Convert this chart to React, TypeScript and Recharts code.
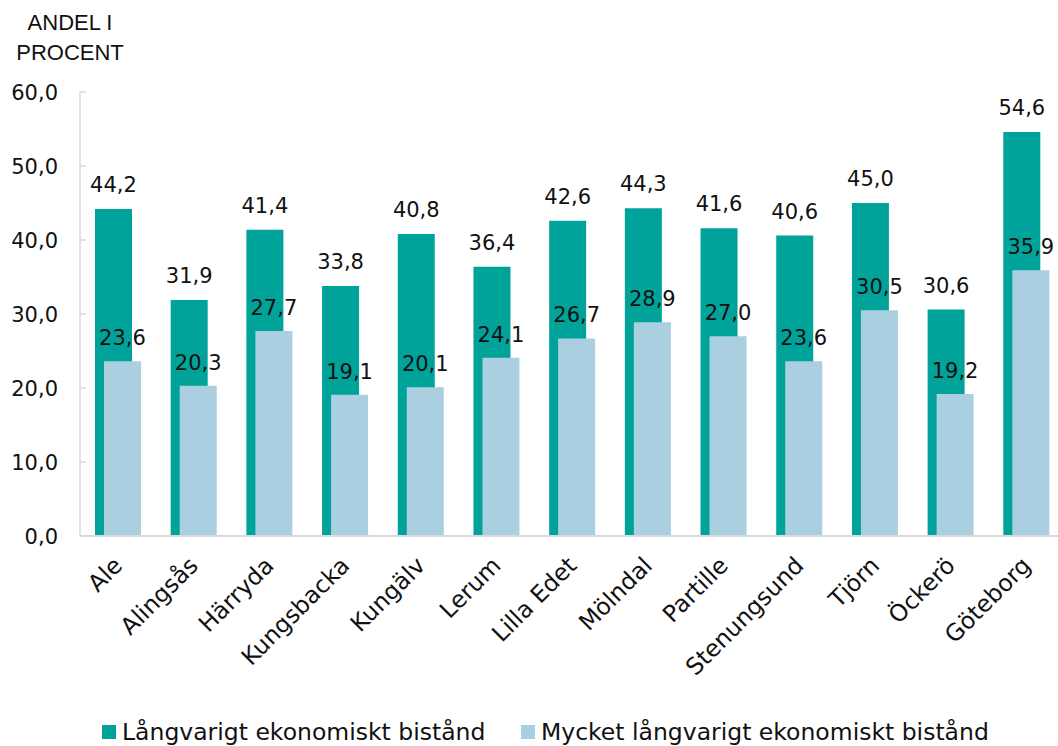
import React from 'react';
import { BarChart, Bar, XAxis, YAxis, LabelList } from 'recharts';

const categories = ['Ale', 'Alingsås', 'Härryda', 'Kungsbacka', 'Kungälv', 'Lerum', 'Lilla Edet', 'Mölndal', 'Partille', 'Stenungsund', 'Tjörn', 'Öckerö', 'Göteborg'];
const longTerm = [44.2, 31.9, 41.4, 33.8, 40.8, 36.4, 42.6, 44.3, 41.6, 40.6, 45.0, 30.6, 54.6];
const veryLongTerm = [23.6, 20.3, 27.7, 19.1, 20.1, 24.1, 26.7, 28.9, 27.0, 23.6, 30.5, 19.2, 35.9];
const yTicks = [0, 10, 20, 30, 40, 50, 60];
const seriesNames = ['Långvarigt ekonomiskt bistånd', 'Mycket långvarigt ekonomiskt bistånd'];
const axisTitle = ['ANDEL I', 'PROCENT'];

const DARK = '#00A39A';
const LIGHT = '#AACFE0';
const AXIS = '#D9D9D9';
const NUM_FONT = '"DejaVu Sans", sans-serif';

const data = categories.map((name, i) => ({ name, a: longTerm[i], b: veryLongTerm[i] }));

const fmt = (v: number) => v.toFixed(1).replace('.', ',');

const YTick = (props: any) => {
  const { x, y, payload } = props;
  return (
    <g>
      <line x1={x} x2={x + 6} y1={y} y2={y} stroke={AXIS} strokeWidth={1.5} />
      <text x={58} y={y} dy="0.36em" textAnchor="end" fontFamily={NUM_FONT} fontSize={21} fill="#111">
        {fmt(payload.value)}
      </text>
    </g>
  );
};

const XTick = (props: any) => {
  const { x, y, payload } = props;
  return (
    <g transform={`translate(${x + 6},${y + 31})`}>
      <text transform="rotate(-45)" textAnchor="end" fontFamily={NUM_FONT} fontSize={23.5} fill="#111">
        {payload.value}
      </text>
    </g>
  );
};

const makeLabel = (off: number) => (props: any) => {
  const { x, y, width, value } = props;
  return (
    <text x={x + width / 2} y={y - off} textAnchor="middle" fontFamily={NUM_FONT} fontSize={21} fill="#111">
      {fmt(Number(value))}
    </text>
  );
};

export default function App() {
  return (
    <div style={{ position: 'absolute', left: 0, top: 0, width: 1058, height: 746, overflow: 'hidden', background: '#fff' }}>
      <div
        style={{
          position: 'absolute',
          left: 0,
          top: 8,
          width: 140,
          textAlign: 'center',
          fontFamily: '"Liberation Sans", Arial, sans-serif',
          fontSize: 22,
          lineHeight: '30px',
          color: '#111',
        }}
      >
        {axisTitle.map((t) => (
          <div key={t}>{t}</div>
        ))}
      </div>
      <BarChart
        width={1070}
        height={746}
        data={data}
        margin={{ top: 92, right: 6, left: 0, bottom: 80 }}
        barSize={37}
        barGap={-28}
        barCategoryGap={0}
      >
        <YAxis
          width={80}
          domain={[0, 60]}
          ticks={yTicks}
          interval={0}
          tickLine={false}
          tickSize={0}
          tickMargin={0}
          axisLine={{ stroke: AXIS, strokeWidth: 1.5 }}
          tick={<YTick />}
        />
        <XAxis
          dataKey="name"
          interval={0}
          height={130}
          tickLine={false}
          tickSize={0}
          tickMargin={0}
          axisLine={{ stroke: AXIS, strokeWidth: 2 }}
          tick={<XTick />}
        />
        <Bar dataKey="a" fill={DARK} isAnimationActive={false}>
          <LabelList dataKey="a" content={makeLabel(17)} />
        </Bar>
        <Bar dataKey="b" fill={LIGHT} isAnimationActive={false}>
          <LabelList dataKey="b" content={makeLabel(16)} />
        </Bar>
      </BarChart>
      {[
        { left: 102, textLeft: 122, color: DARK, name: seriesNames[0] },
        { left: 521, textLeft: 541, color: LIGHT, name: seriesNames[1] },
      ].map((it) => (
        <React.Fragment key={it.name}>
          <div style={{ position: 'absolute', left: it.left, top: 725, width: 14, height: 14, background: it.color }} />
          <div
            style={{
              position: 'absolute',
              left: it.textLeft,
              top: 721,
              fontFamily: NUM_FONT,
              fontSize: 23.5,
              lineHeight: '23px',
              whiteSpace: 'nowrap',
              color: '#111',
            }}
          >
            {it.name}
          </div>
        </React.Fragment>
      ))}
    </div>
  );
}
